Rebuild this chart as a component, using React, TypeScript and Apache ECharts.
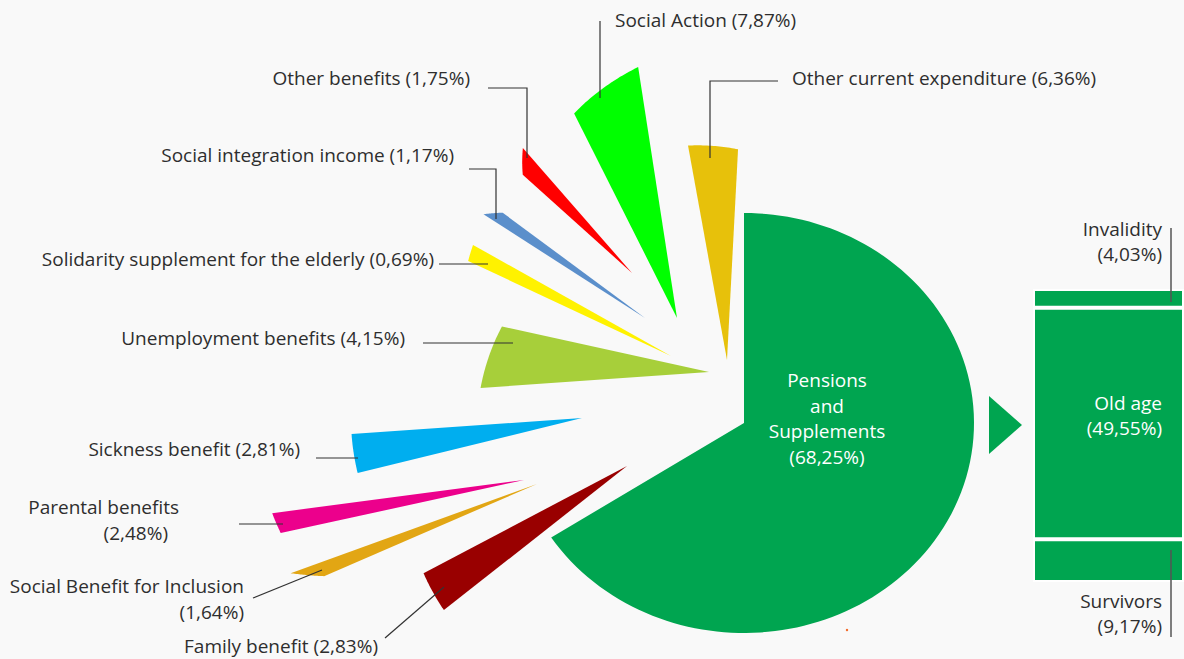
import React, { useEffect, useRef } from 'react';
import * as echarts from 'echarts';

// ---- data ----
const categories = [
  'Pensions and Supplements',
  'Other current expenditure',
  'Social Action',
  'Other benefits',
  'Social integration income',
  'Solidarity supplement for the elderly',
  'Unemployment benefits',
  'Sickness benefit',
  'Parental benefits',
  'Social Benefit for Inclusion',
  'Family benefit',
];
const values = [68.25, 6.36, 7.87, 1.75, 1.17, 0.69, 4.15, 2.81, 2.48, 1.64, 2.83];

const pensionParts = ['Invalidity', 'Old age', 'Survivors'];
const pensionValues = [4.03, 49.55, 9.17];

// ---- styles ----
const colors = [
  '#00a550', '#e7c10b', '#00ff00', '#ff0000', '#5b8fcb', '#fff200',
  '#a7cf3a', '#00aeef', '#ec008c', '#e2a614', '#990000',
];
const FONT = 'Open Sans';
const TEXT = '#2e2e2e';
const LINE = '#333333';
const BG = '#f9f9f9';

// ---- layout of each slice: tip, start/end angle (deg, clockwise from 3 o'clock), radius at start/end ----
const sliceLayout = [
  { tip: [744, 423], angles: [-90, 149.3], radii: [230, 210], ellipse: true },
  { tip: [727, 360], angles: [-100.3, -87.0], radii: [218, 211] },
  { tip: [677, 318], angles: [-116.7, -98.8], radii: [229, 254] },
  { tip: [632, 273], angles: [-138.0, -131.1], radii: [147, 166] },
  { tip: [645, 318], angles: [-147.3, -143.5], radii: [192, 177] },
  { tip: [671, 356], angles: [-154.9, -150.7], radii: [224, 227] },
  { tip: [709, 372], angles: [176.0, 192.4], radii: [229, 212] },
  { tip: [582, 418], angles: [166.2, 176.0], radii: [231, 231] },
  { tip: [524, 480], angles: [167.7, 172.5], radii: [249, 254] },
  { tip: [537, 484], angles: [156.6, 160.1], radii: [232, 262] },
  { tip: [627, 466], angles: [141.8, 152.2], radii: [233, 230] },
];

// label placement for each slice (index 1..10)
const labelLayout: Record<number, { lines: [number, number][]; align: string; split?: boolean; leader: number[][] }> = {
  1: { lines: [[792, 78]], align: 'left', leader: [[778, 81], [710, 81], [710, 158]] },
  2: { lines: [[615, 20]], align: 'left', leader: [[600, 21], [600, 98]] },
  3: { lines: [[470, 78]], align: 'right', leader: [[488, 88], [527, 88], [527, 158]] },
  4: { lines: [[454, 155]], align: 'right', leader: [[469, 169], [496, 169], [496, 219]] },
  5: { lines: [[434, 259]], align: 'right', leader: [[439, 264], [488, 264]] },
  6: { lines: [[405, 338]], align: 'right', leader: [[423, 343], [513, 343]] },
  7: { lines: [[300, 449]], align: 'right', leader: [[316, 458], [358, 458]] },
  8: { lines: [[179, 507], [168, 533]], align: 'right', split: true, leader: [[239, 524], [283, 524]] },
  9: { lines: [[244, 586], [244, 612]], align: 'right', split: true, leader: [[253, 598], [322, 570]] },
  10: { lines: [[378, 646]], align: 'right', leader: [[385, 638], [444, 587]] },
};

const fmt = (v: number) => v.toFixed(2).replace('.', ',') + '%';

function slicePoints(i: number): number[][] {
  const L = sliceLayout[i];
  const [tx, ty] = L.tip;
  const [a0, a1] = L.angles;
  const [rA, rB] = L.radii;
  const pts: number[][] = [[tx, ty]];
  const n = L.ellipse ? 120 : 24;
  for (let k = 0; k <= n; k++) {
    const t = k / n;
    const a = ((a0 + (a1 - a0) * t) * Math.PI) / 180;
    let r: number;
    if (L.ellipse) {
      const c = Math.cos(a), s = Math.sin(a);
      r = 1 / Math.sqrt((c * c) / (rA * rA) + (s * s) / (rB * rB));
    } else {
      r = rA + (rB - rA) * t;
    }
    pts.push([tx + r * Math.cos(a), ty + r * Math.sin(a)]);
  }
  return pts;
}

export default function App() {
  const ref = useRef<HTMLDivElement>(null);

  useEffect(() => {
    if (!ref.current) return;
    const chart = echarts.init(ref.current, undefined, { renderer: 'svg' });

    const graphic: any[] = [];
    // labels + leaders of slices
    Object.keys(labelLayout).forEach((key) => {
      const i = Number(key);
      const L = labelLayout[i];
      const full = `${categories[i]} (${fmt(values[i])})`;
      const texts = L.split ? [categories[i], `(${fmt(values[i])})`] : [full];
      texts.forEach((t, j) => {
        graphic.push({
          type: 'text',
          x: L.lines[j][0],
          y: L.lines[j][1],
          z: 100,
          silent: true,
          style: {
            text: t,
            fill: TEXT,
            fontSize: 19,
            fontFamily: FONT,
            align: L.align,
            verticalAlign: 'middle',
          },
        });
      });
      graphic.push({
        type: 'polyline',
        silent: true,
        z: 100,
        shape: { points: L.leader },
        style: { stroke: LINE, lineWidth: 1.2, fill: null },
      });
    });

    // pensions label (inside big slice)
    const pensionLines = [...categories[0].split(' '), `(${fmt(values[0])})`];
    pensionLines.forEach((t, j) => {
      graphic.push({
        type: 'text',
        x: 827,
        y: 380 + j * 25.7,
        z: 100,
        silent: true,
        style: { text: t, fill: '#ffffff', fontSize: 19, fontFamily: FONT, align: 'center', verticalAlign: 'middle' },
      });
    });

    // arrow
    graphic.push({
      type: 'polygon',
      silent: true,
      z: 100,
      shape: { points: [[989, 396], [989, 454], [1022, 425]] },
      style: { fill: colors[0] },
    });

    // Invalidity / Survivors outside labels
    const outside = [
      { idx: 0, ys: [229, 254], leader: [[1171, 228], [1171, 302]] },
      { idx: 2, ys: [601, 626], leader: [[1171, 550], [1171, 637]] },
    ];
    outside.forEach((o) => {
      [pensionParts[o.idx], `(${fmt(pensionValues[o.idx])})`].forEach((t, j) => {
        graphic.push({
          type: 'text',
          x: 1162,
          y: o.ys[j],
          z: 100,
          silent: true,
          style: { text: t, fill: TEXT, fontSize: 19, fontFamily: FONT, align: 'right', verticalAlign: 'middle' },
        });
      });
      graphic.push({
        type: 'polyline',
        silent: true,
        z: 100,
        shape: { points: o.leader },
        style: { stroke: '#555', lineWidth: 1.5, fill: null },
      });
    });

    // tiny stray dot
    graphic.push({ type: 'circle', silent: true, z: 100, shape: { cx: 847, cy: 630, r: 1.2 }, style: { fill: '#f26522' } });

    const total = pensionValues.reduce((a, b) => a + b, 0);

    chart.setOption({
      animation: false,
      backgroundColor: BG,
      grid: { left: 1033, top: 289, width: 151, height: 293 },
      xAxis: { type: 'category', data: [categories[0]], show: false },
      yAxis: { type: 'value', min: 0, max: total, inverse: true, show: false },
      series: [
        {
          type: 'custom',
          coordinateSystem: 'none',
          data: values.map((v, i) => ({ name: categories[i], value: v, itemStyle: { color: colors[i] } })),
          renderItem: (params: any, api: any) => ({
            type: 'polygon',
            shape: { points: slicePoints(params.dataIndex) },
            style: { fill: api.visual('color') },
          }),
          silent: true,
        },
        ...pensionParts.map((name, i) => ({
          type: 'bar',
          name,
          stack: 'pensions',
          barWidth: '100%',
          data: [pensionValues[i]],
          itemStyle: { color: colors[0], borderColor: '#ffffff', borderWidth: 2 },
          silent: true,
          label:
            i === 1
              ? {
                  show: true,
                  position: 'insideRight',
                  distance: 22,
                  offset: [0, -8],
                  color: '#ffffff',
                  fontSize: 19,
                  fontFamily: FONT,
                  lineHeight: 25,
                  align: 'right',
                  formatter: `${name}\n(${fmt(pensionValues[i])})`,
                }
              : { show: false },
        })),
      ],
      graphic,
    });

    return () => chart.dispose();
  }, []);

  return (
    <div
      ref={ref}
      style={{ position: 'fixed', left: 0, top: 0, width: 1184, height: 659, background: BG }}
    />
  );
}
